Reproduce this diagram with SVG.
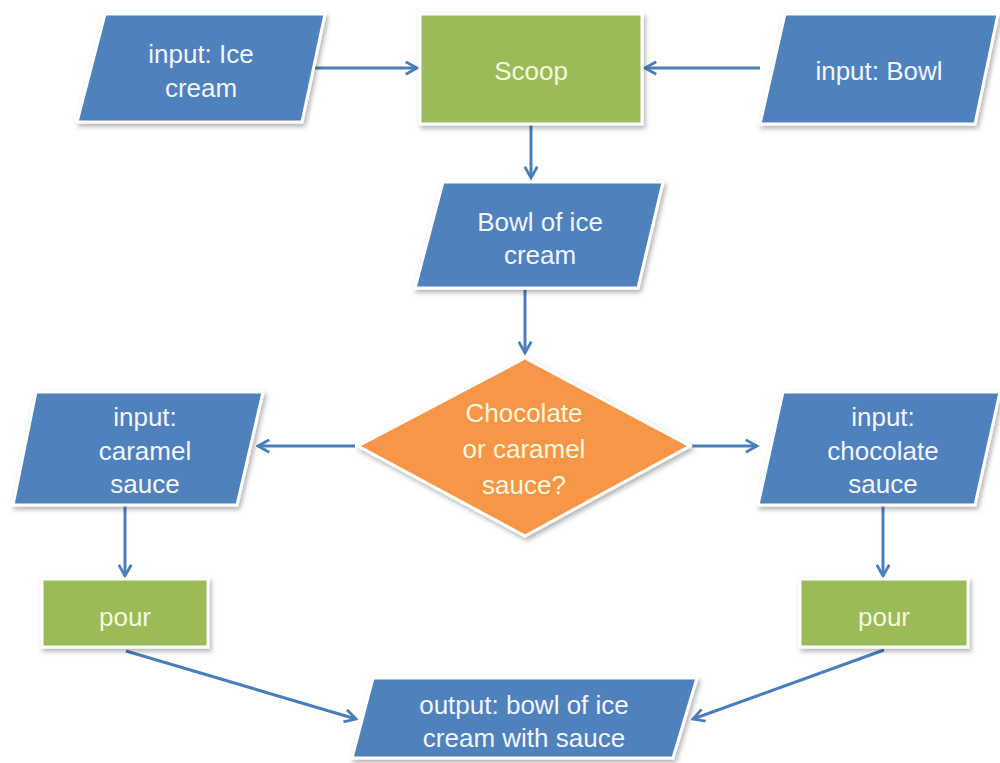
<svg xmlns="http://www.w3.org/2000/svg" width="1000" height="763" viewBox="0 0 1000 763">
<defs>
<style>
.blue{fill:#4f81bd;stroke:#ffffff;stroke-width:3;filter:url(#sh)}
.green{fill:#9bbb59;stroke:#ffffff;stroke-width:3;filter:url(#sh)}
.orange{fill:#f79646;stroke:#ffffff;stroke-width:3;filter:url(#sh)}
.t{font-family:"Liberation Sans",Arial,sans-serif;font-size:26px;fill:#f2f5fb;text-anchor:middle}
.tg{font-family:"Liberation Sans",Arial,sans-serif;font-size:26px;fill:#f4f8dc;text-anchor:middle}
.c{fill:none;stroke:#4a7ebb;stroke-width:3;marker-end:url(#ah)}
</style>
<filter id="sh" x="-10%" y="-10%" width="125%" height="130%">
<feDropShadow dx="2" dy="3" stdDeviation="2.5" flood-color="#000" flood-opacity="0.3"/>
</filter>
<marker id="ah" viewBox="0 0 12 12" refX="10" refY="6" markerWidth="5" markerHeight="5" orient="auto" markerUnits="strokeWidth">
<path d="M1,1 L10,6 L1,11" fill="none" stroke="#4a7ebb" stroke-width="2.2"/>
</marker>
</defs>
<rect width="1000" height="763" fill="#ffffff"/>
<g id="connectors">
<line class="c" x1="314" y1="68" x2="417" y2="68"/>
<line class="c" x1="760" y1="68" x2="645" y2="68"/>
<line class="c" x1="531" y1="125" x2="531" y2="178"/>
<line class="c" x1="525" y1="290" x2="525" y2="353"/>
<line class="c" x1="355" y1="446" x2="258" y2="446"/>
<line class="c" x1="692" y1="446" x2="757" y2="446"/>
<line class="c" x1="125" y1="506" x2="125" y2="576"/>
<line class="c" x1="883" y1="506" x2="883" y2="576"/>
<line class="c" x1="126" y1="651" x2="356" y2="719"/>
<line class="c" x1="884" y1="650" x2="693" y2="719"/>
</g>
<g id="input-ice-cream">
<polygon class="blue" points="105,14 325,14 302,122 77,122"/>
<text class="t" x="201" y="63">input: Ice</text>
<text class="t" x="201" y="97">cream</text>
</g>
<g id="scoop">
<rect class="green" x="420" y="14" width="222" height="110"/>
<text class="tg" x="531" y="80">Scoop</text>
</g>
<g id="input-bowl">
<polygon class="blue" points="785,14 998,14 975,124 760,124"/>
<text class="t" x="879" y="80">input: Bowl</text>
</g>
<g id="bowl-of-ice-cream">
<polygon class="blue" points="443,182 663,182 638,288 415,288"/>
<text class="t" x="540" y="231">Bowl of ice</text>
<text class="t" x="540" y="264">cream</text>
</g>
<g id="decision">
<polygon class="orange" points="525,358 690,446 525,536 358,446"/>
<text class="tg" x="524" y="422">Chocolate</text>
<text class="tg" x="524" y="458">or caramel</text>
<text class="tg" x="524" y="494">sauce?</text>
</g>
<g id="input-caramel">
<polygon class="blue" points="36,392 263,392 237,505 13,505"/>
<text class="t" x="145" y="426">input:</text>
<text class="t" x="145" y="460">caramel</text>
<text class="t" x="145" y="493">sauce</text>
</g>
<g id="input-chocolate">
<polygon class="blue" points="783,392 1000,392 975,505 758,505"/>
<text class="t" x="883" y="426">input:</text>
<text class="t" x="883" y="460">chocolate</text>
<text class="t" x="883" y="493">sauce</text>
</g>
<g id="pour-left">
<rect class="green" x="42" y="579" width="166" height="68"/>
<text class="tg" x="125" y="626">pour</text>
</g>
<g id="pour-right">
<rect class="green" x="800" y="579" width="168" height="68"/>
<text class="tg" x="884" y="626">pour</text>
</g>
<g id="output">
<polygon class="blue" points="373,678 697,678 673,758 352,758"/>
<text class="t" x="524" y="714">output: bowl of ice</text>
<text class="t" x="524" y="747">cream with sauce</text>
</g>
</svg>
